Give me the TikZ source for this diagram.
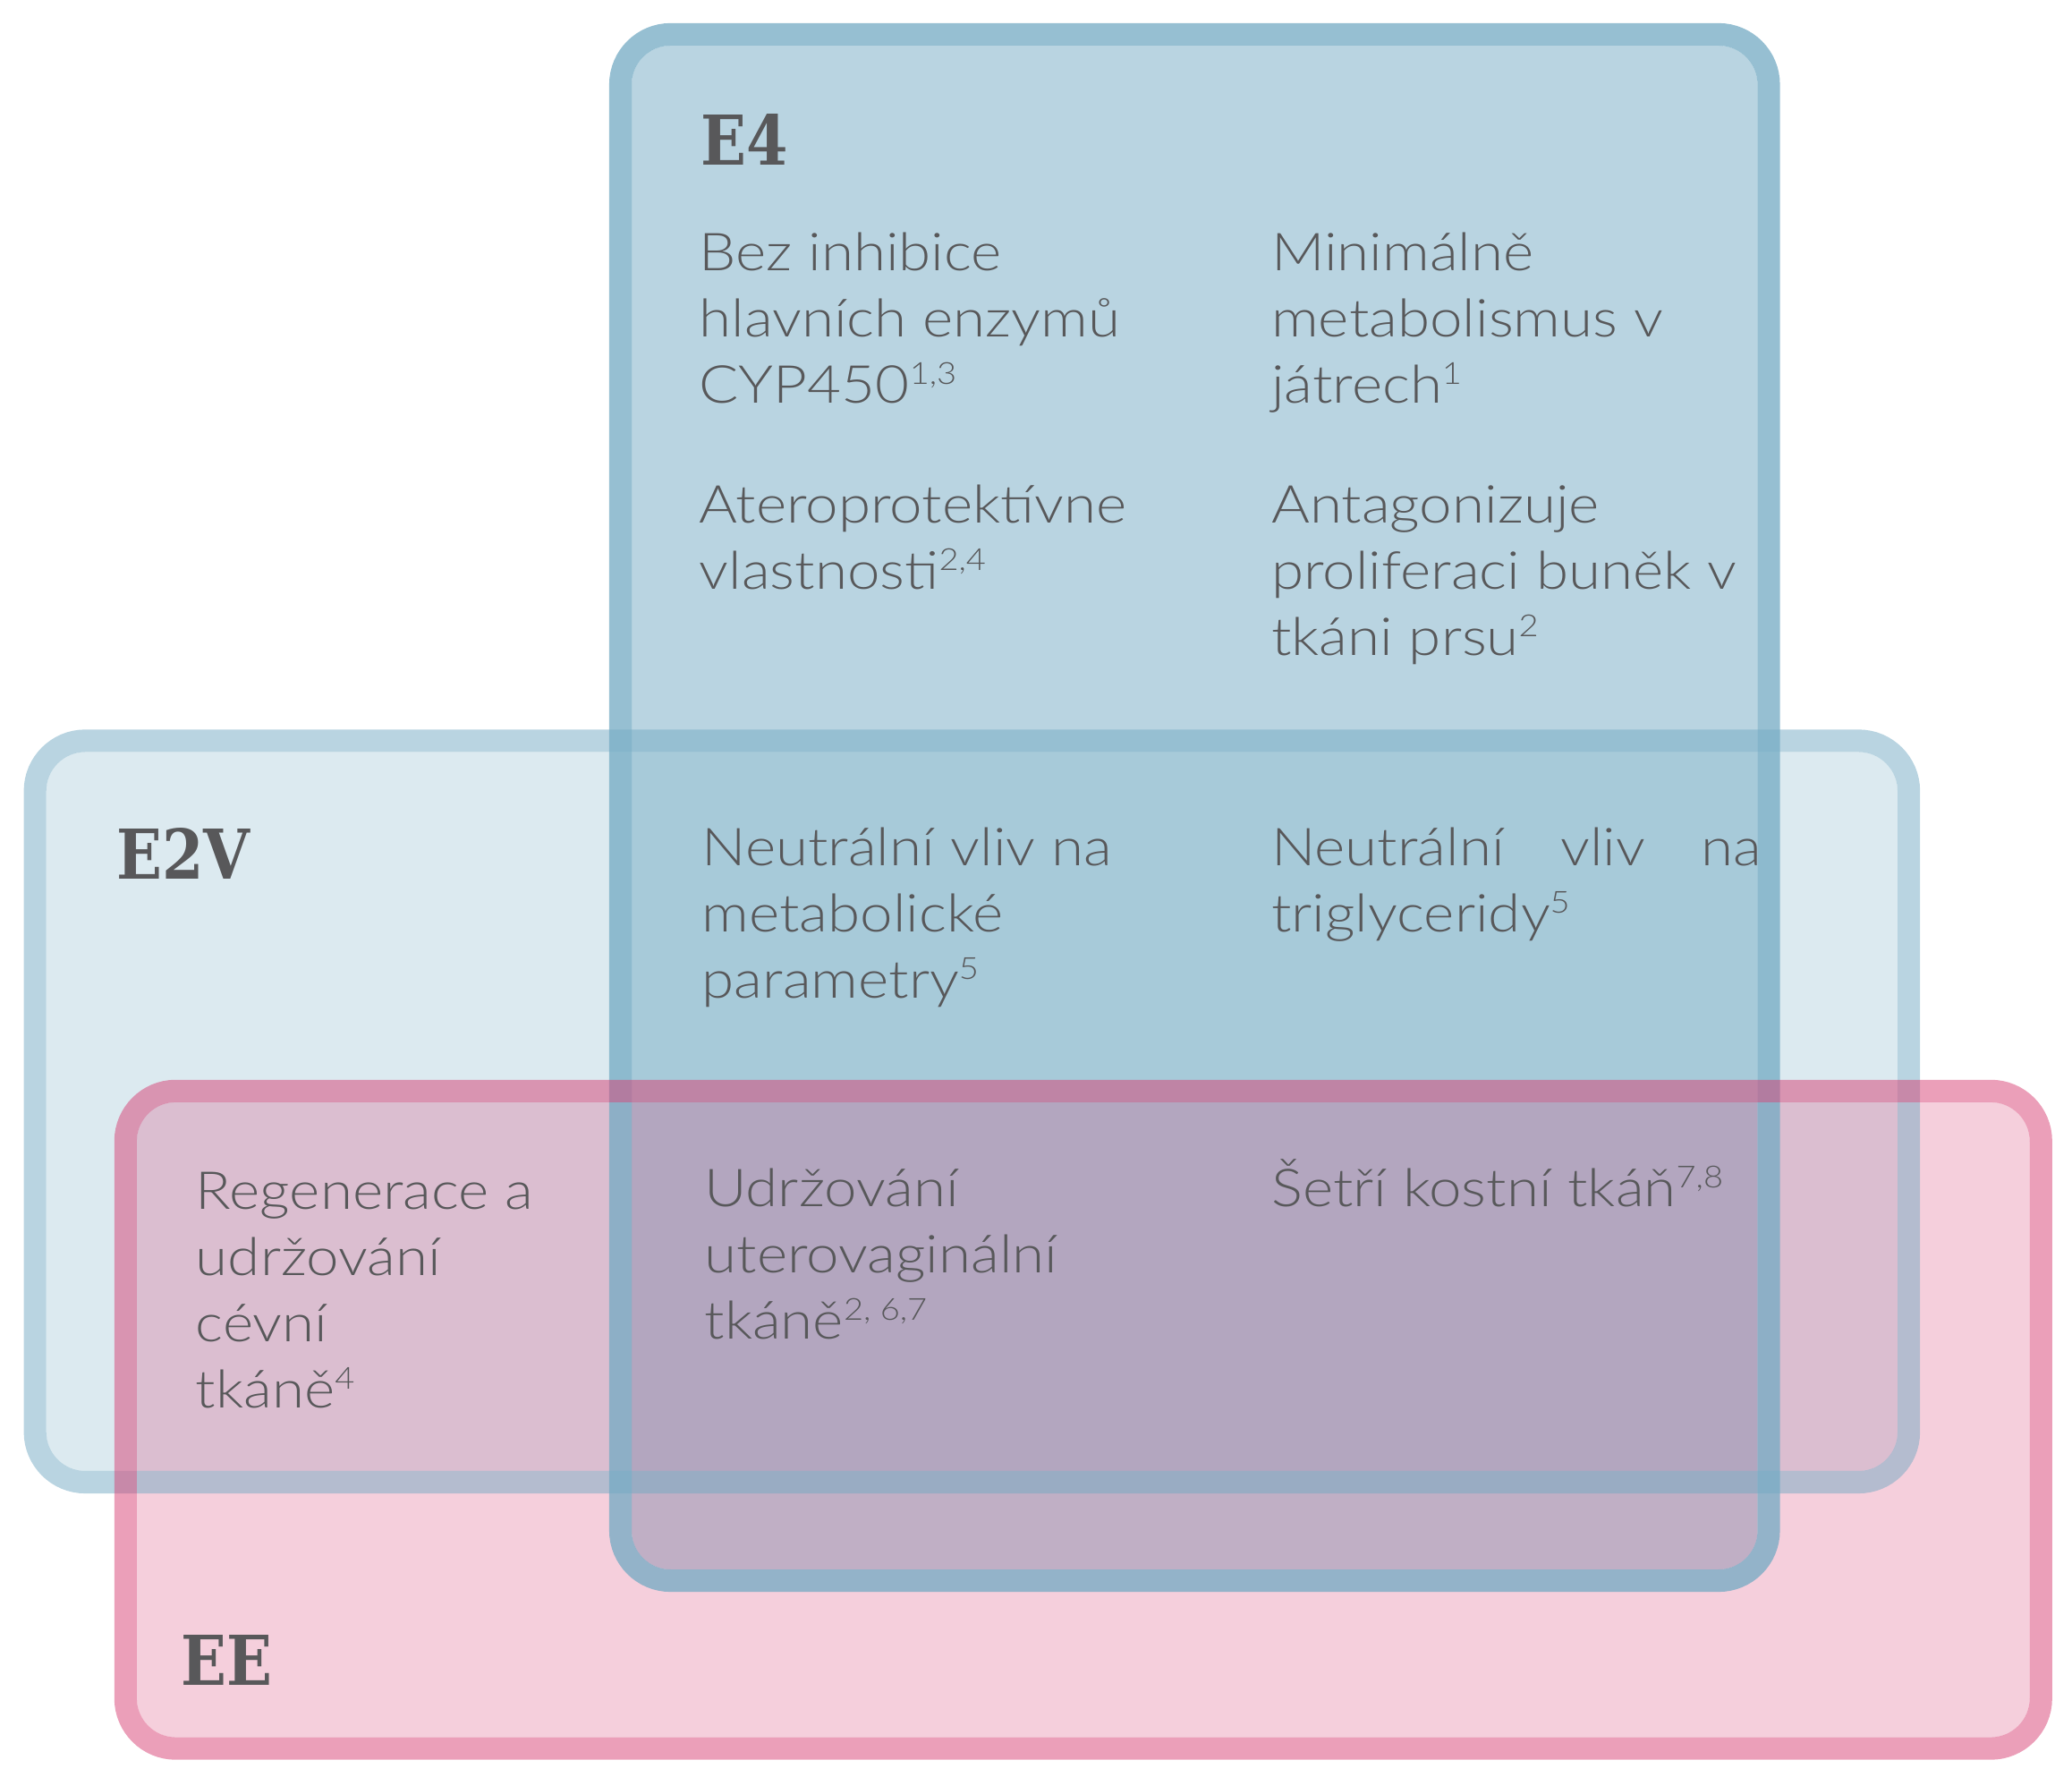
\documentclass[tikz,border=0pt]{standalone}
\usepackage{fontspec}
\setmainfont{Lato}[UprightFont=* Light, FakeStretch=1.12]
\newfontfamily\headfont{DejaVu Serif}[FakeStretch=0.87]
\definecolor{txt}{HTML}{58585A}
\definecolor{bcol}{RGB}{115,170,195}
\definecolor{pcol}{RGB}{215,63,115}
\newcommand\sups[1]{\raisebox{0.36em}{\fontsize{23}{23}\selectfont #1}}
\newcommand\lns[1]{\vtop{\halign{##\hfil\cr#1\crcr}}}
\tikzset{
  body/.style={anchor=base west, inner sep=0pt, text=txt,
    font=\fontsize{39.6}{50}\selectfont},
  head/.style={anchor=base west, inner sep=0pt, text=txt,
    font=\headfont\bfseries\fontsize{52}{52}\selectfont},
  ring/.style={line width=17pt, rounded corners=38pt},
  inner/.style={rounded corners=29.5pt}
}
\begin{document}
\begin{tikzpicture}[x=1pt,y=-1pt]
\useasboundingbox (0,0) rectangle (1568,1344);
% fills (inside the rings)
\fill[inner, bcol, fill opacity=0.25] (35,569) rectangle (1436,1113);   % E2V
\fill[inner, bcol, fill opacity=0.5] (478,34.5) rectangle (1330,1187.5); % E4
\fill[inner, pcol, fill opacity=0.25] (103.5,834) rectangle (1536,1314.5); % EE
% rings
\draw[ring, bcol, draw opacity=0.5] (26.5,560.5) rectangle (1444.5,1121.5); % E2V
\draw[ring, bcol, draw opacity=0.75] (469.5,26) rectangle (1338.5,1196);   % E4
\draw[ring, pcol, draw opacity=0.5] (95,825.5) rectangle (1544.5,1323);    % EE

% headings
\node[head] (h4) at (530,125) {E4};
\node[head] (h2v) at (88,665) {E2V};
\node[head] (hee) at (137,1275) {EE};

% texts
\node[body] (a1) at (529,205) {\lns{Bez inhibice\cr hlavních enzymů\cr CYP450\sups{1,3}}};
\node[body] (a2) at (962,205) {\lns{Minimálně\cr metabolismus v\cr játrech\sups{1}}};
\node[body] (a3) at (529,396) {\lns{Ateroprotektívne\cr vlastnosti\sups{2,4}}};
\node[body] (a4) at (962,396) {\lns{Antagonizuje\cr proliferaci buněk v\cr tkáni prsu\sups{2}}};
\node[body] (b1) at (531,655) {\lns{Neutrální vliv na\cr metabolické\cr parametry\sups{5}}};
\node[body] (b2) at (962,655) {\lns{\hbox to 371pt{Neutrální\hfil vliv\hfil na}\cr triglyceridy\sups{5}}};
\node[body] (c1) at (148,915) {\lns{Regenerace a\cr udržování\cr cévní\cr tkáně\sups{4}}};
\node[body] (c2) at (533,913) {\lns{Udržování\cr uterovaginální\cr tkáně\sups{2, 6,7}}};
\node[body] (c3) at (962,913) {\lns{Šetří kostní tkáň\sups{7,8}}};
\end{tikzpicture}
\end{document}
